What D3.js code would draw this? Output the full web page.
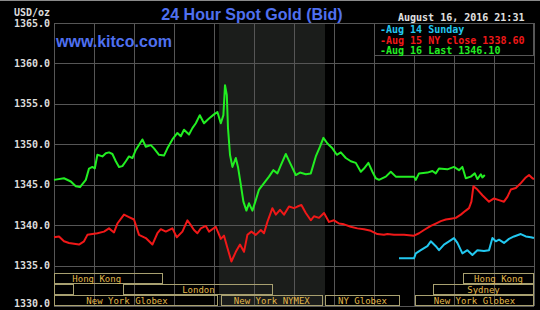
<!DOCTYPE html>
<html>
<head>
<meta charset="utf-8">
<script src="https://cdn.jsdelivr.net/npm/d3@7"></script>
<style>
  html, body { margin: 0; padding: 0; background: #000; }
  svg { display: block; }
</style>
</head>
<body>
<div id="chart"></div>
<script>
// [hour of day, price]
const aug16 = [
  [0.00, 1345.6], [0.50, 1345.8], [0.84, 1345.4], [1.09, 1344.8], [1.30, 1344.7], [1.59, 1345.6],
  [1.75, 1347.0], [1.92, 1347.2], [2.04, 1347.0], [2.17, 1348.7], [2.42, 1348.5], [2.59, 1348.9],
  [2.75, 1349.0], [2.92, 1348.8], [3.09, 1347.9], [3.25, 1347.2], [3.42, 1347.3], [3.59, 1347.9],
  [3.75, 1348.5], [3.92, 1348.3], [4.09, 1349.3], [4.42, 1350.6], [4.59, 1349.7], [4.84, 1349.9],
  [5.00, 1349.5], [5.25, 1348.7], [5.50, 1348.6], [5.67, 1349.5], [5.92, 1350.6], [6.17, 1351.4],
  [6.34, 1351.0], [6.50, 1351.8], [6.75, 1351.2], [6.92, 1352.0], [7.09, 1352.6], [7.29, 1353.6],
  [7.50, 1352.6], [7.75, 1353.2], [8.00, 1353.7], [8.17, 1354.0], [8.34, 1352.6], [8.47, 1353.6],
  [8.55, 1357.3], [8.64, 1356.1], [8.70, 1352.0], [8.80, 1348.7], [8.92, 1347.2], [9.09, 1348.3],
  [9.20, 1347.2], [9.34, 1345.0], [9.47, 1342.9], [9.62, 1341.8], [9.75, 1342.7], [9.92, 1341.8],
  [10.09, 1343.1], [10.25, 1344.4], [10.50, 1345.2], [10.75, 1346.0], [10.97, 1346.8], [11.17, 1346.4],
  [11.34, 1347.4], [11.59, 1348.8], [11.80, 1347.7], [12.09, 1346.2], [12.30, 1346.5], [12.59, 1346.3],
  [12.84, 1346.4], [13.09, 1348.5], [13.30, 1349.7], [13.47, 1350.8], [13.67, 1350.1], [13.92, 1349.5],
  [14.14, 1348.7], [14.34, 1349.0], [14.59, 1348.3], [14.84, 1347.9], [15.09, 1347.7], [15.34, 1346.6],
  [15.50, 1347.0], [15.72, 1347.7], [15.92, 1346.6], [16.09, 1345.8], [16.25, 1345.6], [16.59, 1346.0],
  [16.84, 1346.6], [17.09, 1346.0], [18.00, 1346.0], [18.09, 1345.6], [18.25, 1346.4], [18.67, 1346.5],
  [18.92, 1346.7], [19.09, 1346.4], [19.25, 1347.0], [19.67, 1346.9], [20.00, 1347.2], [20.25, 1346.8],
  [20.42, 1347.2], [20.59, 1345.8], [20.84, 1346.0], [21.04, 1346.4], [21.17, 1345.7], [21.34, 1346.3],
  [21.42, 1345.9], [21.54, 1346.2]
];

const aug15 = [
  [0.00, 1338.5], [0.25, 1338.6], [0.50, 1338.0], [0.75, 1337.8], [1.00, 1337.7], [1.25, 1337.6],
  [1.50, 1338.0], [1.67, 1338.8], [1.92, 1338.9], [2.17, 1339.0], [2.50, 1339.2], [2.75, 1339.6],
  [3.00, 1339.1], [3.17, 1340.2], [3.50, 1341.3], [3.75, 1341.0], [4.00, 1340.7], [4.25, 1338.8],
  [4.59, 1338.4], [4.92, 1337.6], [5.17, 1339.0], [5.34, 1339.5], [5.59, 1339.2], [5.92, 1339.6],
  [6.14, 1338.5], [6.42, 1339.2], [6.67, 1340.6], [6.84, 1340.0], [7.00, 1339.4], [7.17, 1339.0],
  [7.34, 1339.6], [7.59, 1339.9], [7.75, 1339.2], [8.09, 1339.8], [8.34, 1338.3], [8.50, 1338.7],
  [8.67, 1337.2], [8.87, 1335.5], [9.09, 1336.7], [9.30, 1337.6], [9.50, 1336.7], [9.67, 1338.8],
  [9.87, 1339.2], [10.09, 1338.8], [10.34, 1339.4], [10.50, 1339.0], [10.67, 1340.4], [10.92, 1342.1],
  [11.09, 1341.3], [11.30, 1341.9], [11.50, 1341.3], [11.75, 1342.3], [12.00, 1342.1], [12.17, 1342.3],
  [12.37, 1342.5], [12.59, 1341.5], [12.84, 1340.6], [13.00, 1341.1], [13.25, 1340.9], [13.50, 1341.5],
  [13.75, 1340.4], [14.00, 1340.6], [14.25, 1340.2], [14.50, 1340.1], [14.84, 1339.8], [15.17, 1339.6],
  [15.50, 1339.5], [15.84, 1339.3], [16.17, 1338.9], [16.50, 1338.8], [16.67, 1338.9], [17.00, 1338.8],
  [17.50, 1338.8], [18.00, 1338.7], [18.25, 1339.0], [18.50, 1339.4], [18.84, 1339.9], [19.09, 1340.2],
  [19.34, 1340.5], [19.59, 1340.7], [19.84, 1340.8], [20.09, 1340.9], [20.34, 1341.3], [20.59, 1341.8],
  [20.75, 1342.1], [20.87, 1342.9], [20.97, 1344.8], [21.17, 1344.4], [21.42, 1343.7], [21.75, 1342.9],
  [22.00, 1343.3], [22.25, 1343.1], [22.50, 1342.9], [22.67, 1343.5], [22.84, 1344.4], [23.09, 1344.6],
  [23.34, 1345.2], [23.59, 1345.9], [23.75, 1346.2], [23.92, 1345.8], [24.00, 1345.7]
];

const aug14 = [
  [17.25, 1335.9], [18.00, 1335.9], [18.09, 1336.5], [18.34, 1336.9], [18.67, 1337.4], [18.84, 1338.0],
  [19.09, 1337.4], [19.25, 1336.9], [19.50, 1337.6], [19.75, 1338.0], [20.00, 1338.4], [20.17, 1337.8],
  [20.42, 1336.5], [20.67, 1336.9], [20.92, 1336.3], [21.17, 1336.9], [21.50, 1336.8], [21.75, 1336.9],
  [21.92, 1338.4], [22.09, 1338.0], [22.25, 1338.2], [22.50, 1337.8], [22.75, 1338.3], [23.00, 1338.6],
  [23.34, 1338.9], [23.59, 1338.6], [23.84, 1338.5], [24.00, 1338.4]
];

const yTicks = [1330, 1335, 1340, 1345, 1350, 1355, 1360, 1365];
const hourTicks = d3.range(0, 25, 2);

const legendLabels = ["-Aug 14 Sunday", "-Aug 15 NY close 1338.60", "-Aug 16 Last 1346.10"];
const legendColors = ["#22c8f0", "#f01818", "#22ee22"];

// trading sessions: [start hour, end hour, row, label]
const sessions = [
  [-1.2, 5.47, 0, "Hong Kong"],
  [20.45, 24, 0, "Hong Kong"],
  [0, 0.98, 1, ""],
  [3.47, 10.97, 1, "London"],
  [18.95, 24, 1, "Sydney"],
  [-0.9, 8.2, 2, "New York Globex"],
  [8.33, 13.45, 2, "New York NYMEX"],
  [13.55, 17.3, 2, "NY Globex"],
  [18.05, 24, 2, "New York Globex"]
];
const nymexHours = [8.25, 13.55];

const width = 540, height = 310;
const margin = {top: 23, right: 6, bottom: 4, left: 54};

const svg = d3.select("#chart").append("svg")
    .attr("width", width)
    .attr("height", height)
    .style("background", "#000");

const x = d3.scaleLinear().domain([0, 24]).range([margin.left, width - margin.right]);
const y = d3.scaleLinear().domain([1330, 1365]).range([height - margin.bottom, margin.top]);

const mono = "'DejaVu Sans Mono', monospace";
const sans = "'Liberation Sans', Arial, sans-serif";

svg.append("rect")
    .attr("x", 0).attr("y", 0)
    .attr("width", width).attr("height", 1)
    .attr("fill", "#8a8a8a");

// NYMEX shading
svg.append("rect")
    .attr("x", x(nymexHours[0]))
    .attr("y", y(1365))
    .attr("width", x(nymexHours[1]) - x(nymexHours[0]))
    .attr("height", y(1330) - y(1365))
    .attr("fill", "#1b1d1b");

// grid
const grid = svg.append("g").attr("stroke", "#565656").attr("stroke-width", 1);
grid.selectAll("line.h")
    .data(yTicks)
    .join("line")
    .attr("class", "h")
    .attr("x1", x(0)).attr("x2", x(24))
    .attr("y1", d => Math.round(y(d)) + 0.5)
    .attr("y2", d => Math.round(y(d)) + 0.5);
grid.selectAll("line.v")
    .data(hourTicks)
    .join("line")
    .attr("class", "v")
    .attr("x1", d => Math.round(x(d)) + 0.5)
    .attr("x2", d => Math.round(x(d)) + 0.5)
    .attr("y1", y(1365)).attr("y2", y(1330));

// y labels
const yAxis = d3.axisLeft(y)
    .tickValues(yTicks)
    .tickFormat(d3.format(".1f"))
    .tickSize(0)
    .tickPadding(4);
const yAxisGroup = svg.append("g")
    .attr("transform", `translate(${margin.left},0)`)
    .call(yAxis);
yAxisGroup.select(".domain").remove();
yAxisGroup.selectAll("text")
    .attr("fill", "#dcdcdc")
    .attr("font-family", mono)
    .attr("font-weight", "bold")
    .attr("font-size", 10)
    .attr("dy", d => d === 1330 ? "0.05em" : "0.3em");

svg.append("text")
    .attr("x", 14).attr("y", 16)
    .attr("fill", "#dcdcdc")
    .attr("font-family", mono)
    .attr("font-weight", "bold")
    .attr("font-size", 10)
    .text("USD/oz");

// sessions
const rowTop = [273.5, 284.5, 295.5];
const rowH = 10;
const sess = svg.append("g");
sess.selectAll("rect")
    .data(sessions)
    .join("rect")
    .attr("x", d => Math.round(x(Math.max(0, d[0]))) + 0.5)
    .attr("y", d => rowTop[d[2]])
    .attr("width", d => Math.round(x(Math.min(24, d[1])) - x(Math.max(0, d[0]))) - 1)
    .attr("height", rowH)
    .attr("fill", "none")
    .attr("stroke", "#a8a070")
    .attr("stroke-width", 1);
sess.selectAll("text")
    .data(sessions.filter(d => d[3]))
    .join("text")
    .attr("x", d => x((d[0] + Math.min(24, d[1])) / 2))
    .attr("y", d => rowTop[d[2]] + rowH / 2 + 3)
    .attr("text-anchor", "middle")
    .attr("fill", "#e2b84a")
    .attr("font-family", mono)
    .attr("font-size", 9)
    .text(d => d[3]);

// lines
const line = d3.line()
    .x(d => x(d[0]))
    .y(d => y(d[1]));

[[aug15, legendColors[1]], [aug14, legendColors[0]], [aug16, legendColors[2]]].forEach(([data, color]) => {
    svg.append("path")
        .datum(data)
        .attr("d", line)
        .attr("fill", "none")
        .attr("stroke", color)
        .attr("stroke-width", 2)
        .attr("stroke-linejoin", "round");
});

// title
svg.append("text")
    .attr("x", 252).attr("y", 20)
    .attr("text-anchor", "middle")
    .attr("fill", "#4f70f0")
    .attr("font-family", sans)
    .attr("font-weight", "bold")
    .attr("font-size", 16)
    .text("24 Hour Spot Gold (Bid)");

svg.append("text")
    .attr("x", 56).attr("y", 47)
    .attr("fill", "#4f70f0")
    .attr("font-family", sans)
    .attr("font-weight", "bold")
    .attr("font-size", 16)
    .text("www.kitco.com");

svg.append("text")
    .attr("x", 398).attr("y", 21)
    .attr("fill", "#e0e0e0")
    .attr("font-family", mono)
    .attr("font-weight", "bold")
    .attr("font-size", 10)
    .text("August 16, 2016 21:31");

// legend
const legend = svg.append("g");
legend.append("rect")
    .attr("x", x(16) + 0.5).attr("y", y(1365) + 0.5)
    .attr("width", x(24) - x(16) - 1).attr("height", 32)
    .attr("fill", "#000")
    .attr("stroke", "#565656");
legend.selectAll("text")
    .data(legendLabels)
    .join("text")
    .attr("x", 380)
    .attr("y", (d, i) => 33 + i * 10.5)
    .attr("fill", (d, i) => legendColors[i])
    .attr("font-family", mono)
    .attr("font-weight", "bold")
    .attr("font-size", 10)
    .text(d => d);
</script>
</body>
</html>
